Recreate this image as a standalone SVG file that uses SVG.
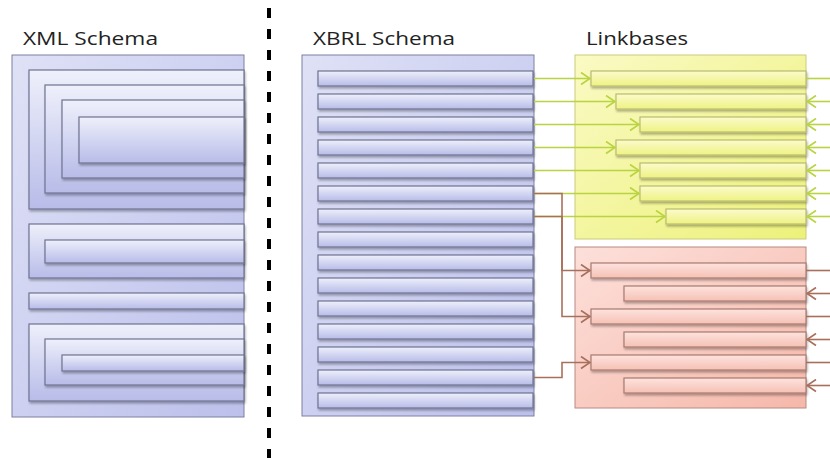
<svg xmlns="http://www.w3.org/2000/svg" width="830" height="458" viewBox="0 0 830 458">
<defs>
  <linearGradient id="gBlue" x1="0" y1="0" x2="0" y2="1">
    <stop offset="0" stop-color="#eef0fb"/>
    <stop offset="1" stop-color="#b8bce8"/>
  </linearGradient>
  <linearGradient id="gBlueOuter" x1="0" y1="0" x2="1" y2="1">
    <stop offset="0" stop-color="#dfe1f6"/>
    <stop offset="1" stop-color="#bcc0eb"/>
  </linearGradient>
  <linearGradient id="gYellow" x1="0" y1="0" x2="0" y2="1">
    <stop offset="0" stop-color="#fbfbcc"/>
    <stop offset="1" stop-color="#eff283"/>
  </linearGradient>
  <linearGradient id="gYellowOuter" x1="0" y1="0" x2="1" y2="1">
    <stop offset="0" stop-color="#fafac4"/>
    <stop offset="1" stop-color="#edf17a"/>
  </linearGradient>
  <linearGradient id="gPink" x1="0" y1="0" x2="0" y2="1">
    <stop offset="0" stop-color="#fde3de"/>
    <stop offset="1" stop-color="#f6c1b5"/>
  </linearGradient>
  <linearGradient id="gPinkOuter" x1="0" y1="0" x2="1" y2="1">
    <stop offset="0" stop-color="#fde0da"/>
    <stop offset="1" stop-color="#f5b8aa"/>
  </linearGradient>
  <filter id="sh" x="-5%" y="-20%" width="110%" height="160%">
    <feDropShadow dx="1" dy="2" stdDeviation="1" flood-color="#000" flood-opacity="0.3"/>
  </filter>
  <marker id="aG" markerWidth="11" markerHeight="14" refX="10" refY="7" orient="auto" markerUnits="userSpaceOnUse">
    <path d="M1,1 L10,7 L1,13" fill="none" stroke="#b9d441" stroke-width="1.7"/>
  </marker>
  <marker id="aB" markerWidth="11" markerHeight="14" refX="10" refY="7" orient="auto" markerUnits="userSpaceOnUse">
    <path d="M1,1 L10,7 L1,13" fill="none" stroke="#a8705c" stroke-width="1.7"/>
  </marker>
  <style>
    .title{font-family:"Open Sans","Liberation Sans",sans-serif;font-size:19px;fill:#222}
    .bo{fill:url(#gBlueOuter);stroke:#7c80a0;stroke-width:1}
    .b{fill:url(#gBlue);stroke:#6f7392;stroke-width:1.2;filter:url(#sh)}
    .yo{fill:url(#gYellowOuter);stroke:#c9cc7a;stroke-width:1}
    .y{fill:url(#gYellow);stroke:#b9bc70;stroke-width:1.2;filter:url(#sh)}
    .po{fill:url(#gPinkOuter);stroke:#b88a80;stroke-width:1}
    .p{fill:url(#gPink);stroke:#a87a70;stroke-width:1.2;filter:url(#sh)}
    .cg{fill:none;stroke:#b9d441;stroke-width:1.6}
    .cb{fill:none;stroke:#a8705c;stroke-width:1.6}
    .dash{stroke:#000;stroke-width:4;stroke-dasharray:10 11}
  </style>
</defs>
<rect width="830" height="458" fill="#ffffff"/>

<text class="title" x="23" y="45" textLength="135" lengthAdjust="spacingAndGlyphs">XML Schema</text>
<text class="title" x="313" y="45" textLength="142" lengthAdjust="spacingAndGlyphs">XBRL Schema</text>
<text class="title" x="586" y="45" textLength="102" lengthAdjust="spacingAndGlyphs">Linkbases</text>

<line class="dash" x1="269" y1="8" x2="269" y2="458"/>

<g id="xml-schema">
  <rect class="bo" x="12" y="55" width="232" height="362"/>
  <rect class="b" x="29" y="70" width="215" height="139"/>
  <rect class="b" x="45" y="85" width="199" height="108"/>
  <rect class="b" x="62" y="100" width="182" height="78"/>
  <rect class="b" x="79" y="117" width="165" height="46"/>
  <rect class="b" x="29" y="224" width="215" height="54"/>
  <rect class="b" x="45" y="240" width="199" height="23"/>
  <rect class="b" x="29" y="293" width="215" height="16"/>
  <rect class="b" x="29" y="324" width="215" height="77"/>
  <rect class="b" x="45" y="339" width="199" height="46"/>
  <rect class="b" x="62" y="355" width="182" height="16"/>
</g>

<g id="xbrl-schema">
  <rect class="bo" x="302" y="55" width="232" height="361"/>
  <rect class="b" x="318" y="71" width="215" height="15"/>
  <rect class="b" x="318" y="94" width="215" height="15"/>
  <rect class="b" x="318" y="117" width="215" height="15"/>
  <rect class="b" x="318" y="140" width="215" height="15"/>
  <rect class="b" x="318" y="163" width="215" height="15"/>
  <rect class="b" x="318" y="186" width="215" height="15"/>
  <rect class="b" x="318" y="209" width="215" height="15"/>
  <rect class="b" x="318" y="232" width="215" height="15"/>
  <rect class="b" x="318" y="255" width="215" height="15"/>
  <rect class="b" x="318" y="278" width="215" height="15"/>
  <rect class="b" x="318" y="301" width="215" height="15"/>
  <rect class="b" x="318" y="324" width="215" height="15"/>
  <rect class="b" x="318" y="347" width="215" height="15"/>
  <rect class="b" x="318" y="370" width="215" height="15"/>
  <rect class="b" x="318" y="393" width="215" height="15"/>
</g>

<g id="linkbase-yellow">
  <rect class="yo" x="575" y="55" width="231" height="184"/>
  <rect class="y" x="591" y="71" width="215" height="15"/>
  <rect class="y" x="616" y="94" width="190" height="15"/>
  <rect class="y" x="640" y="117" width="166" height="15"/>
  <rect class="y" x="616" y="140" width="190" height="15"/>
  <rect class="y" x="640" y="163" width="166" height="15"/>
  <rect class="y" x="640" y="186" width="166" height="15"/>
  <rect class="y" x="666" y="209" width="140" height="15"/>
</g>

<g id="linkbase-pink">
  <rect class="po" x="575" y="247" width="231" height="161"/>
  <rect class="p" x="591" y="263" width="215" height="15"/>
  <rect class="p" x="624" y="286" width="182" height="15"/>
  <rect class="p" x="591" y="309" width="215" height="15"/>
  <rect class="p" x="624" y="332" width="182" height="15"/>
  <rect class="p" x="591" y="355" width="215" height="15"/>
  <rect class="p" x="624" y="378" width="182" height="15"/>
</g>

<g id="connectors">
  <path class="cg" d="M534,78.5 H590" marker-end="url(#aG)"/>
  <path class="cg" d="M534,101.5 H615" marker-end="url(#aG)"/>
  <path class="cg" d="M534,124.5 H639" marker-end="url(#aG)"/>
  <path class="cg" d="M534,147.5 H615" marker-end="url(#aG)"/>
  <path class="cg" d="M534,170.5 H639" marker-end="url(#aG)"/>
  <path class="cg" d="M534,193.5 H639" marker-end="url(#aG)"/>
  <path class="cg" d="M534,216.5 H665" marker-end="url(#aG)"/>

  <path class="cb" d="M534,193.5 H562 V270.5 H590" marker-end="url(#aB)"/>
  <path class="cb" d="M534,216.5 H562 V316.5 H590" marker-end="url(#aB)"/>
  <path class="cb" d="M534,377.5 H562 V362.5 H590" marker-end="url(#aB)"/>

  <path class="cg" d="M806,78.5 H830"/>
  <path class="cg" d="M830,101.5 H807" marker-end="url(#aG)"/>
  <path class="cg" d="M830,124.5 H807" marker-end="url(#aG)"/>
  <path class="cg" d="M830,147.5 H807" marker-end="url(#aG)"/>
  <path class="cg" d="M830,170.5 H807" marker-end="url(#aG)"/>
  <path class="cg" d="M830,193.5 H807" marker-end="url(#aG)"/>
  <path class="cg" d="M830,216.5 H807" marker-end="url(#aG)"/>

  <path class="cb" d="M806,270.5 H830"/>
  <path class="cb" d="M830,293.5 H807" marker-end="url(#aB)"/>
  <path class="cb" d="M806,316.5 H830"/>
  <path class="cb" d="M830,339.5 H807" marker-end="url(#aB)"/>
  <path class="cb" d="M806,362.5 H830"/>
  <path class="cb" d="M830,385.5 H807" marker-end="url(#aB)"/>
</g>
</svg>
